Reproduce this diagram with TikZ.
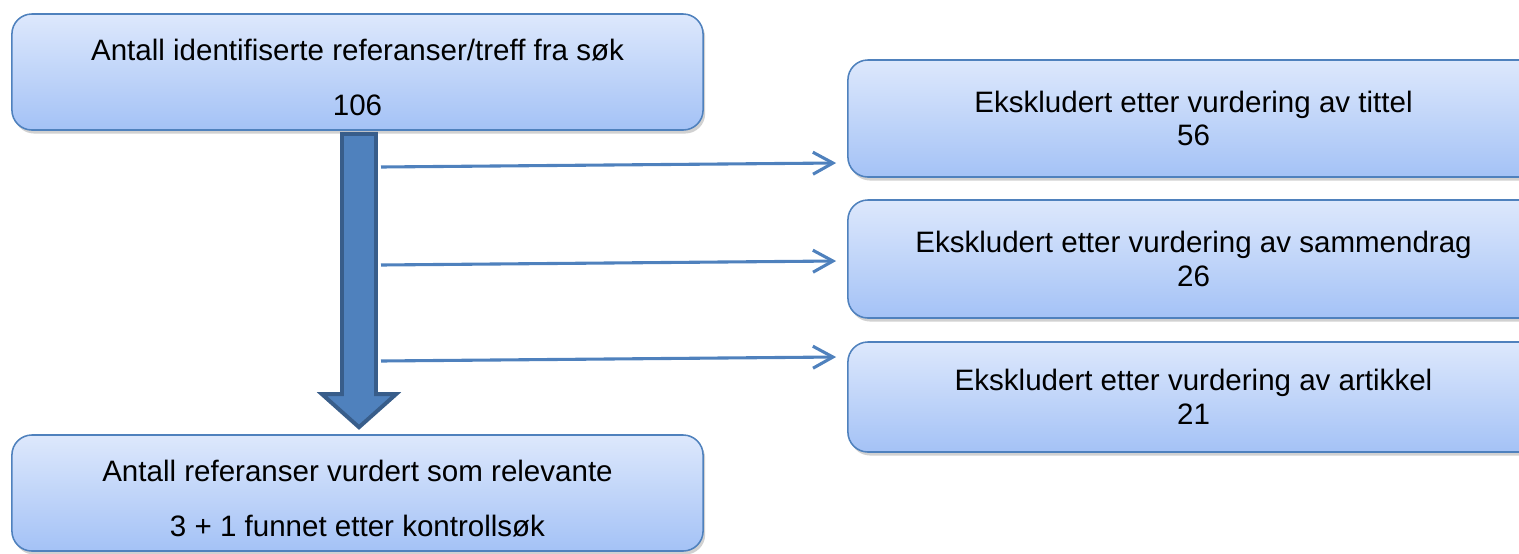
\documentclass[tikz,border=0pt]{standalone}
\usepackage{fontspec}
\setmainfont{Liberation Sans}
\definecolor{boxtop}{RGB}{221,232,252}
\definecolor{boxbottom}{RGB}{164,194,246}
\definecolor{boxline}{RGB}{79,129,189}
\definecolor{arrowdark}{RGB}{56,93,138}
\usetikzlibrary{arrows.meta,positioning,calc,shadows}
\newcommand{\topgap}{\rule{0pt}{0.8cm}}

\begin{document}
\begin{tikzpicture}[x=0.025cm,y=-0.025cm,
    basebox/.style={rectangle,rounded corners=0.5cm,draw=boxline,line width=1.1pt,
        top color=boxtop,bottom color=boxbottom,minimum width=17.275cm,align=center,
        drop shadow={shadow xshift=1.5pt,shadow yshift=-2.5pt,opacity=0.3,fill=black!60}},
    refbox/.style={basebox,font=\fontsize{21}{39}\selectfont},
    exbox/.style={basebox,font=\fontsize{21}{24}\selectfont},
    flowarrow/.style={fill=boxline,draw=arrowdark,line width=2.8pt,line join=miter},
    sidearrow/.style={draw=boxline,line width=2.2pt,-{Straight Barb[length=0.5cm,width=0.55cm,line width=2.2pt]}}]
    \useasboundingbox (0,0) rectangle (1519,553);

    % Main boxes
    \node[refbox,minimum height=2.9cm] (found) at (357.5,72) {\topgap Antall identifiserte referanser/treff fra søk\\106};
    \node[refbox,minimum height=2.9cm] (relevant) at (357.5,493) {\topgap Antall referanser vurdert som relevante\\3 + 1 funnet etter kontrollsøk};

    % Excluded boxes
    \node[exbox,minimum height=2.925cm] (ex1) at (1193.5,118.5) {Ekskludert etter vurdering av tittel\\56};
    \node[exbox,minimum height=2.95cm] (ex2) at (1193.5,259) {Ekskludert etter vurdering av sammendrag\\26};
    \node[exbox,minimum height=2.75cm] (ex3) at (1193.5,397) {Ekskludert etter vurdering av artikkel\\21};

    % Big arrow
    \path (found.south) ++(1.5,3) coordinate (shafttop);
    \path (relevant.north) ++(1.5,-7) coordinate (shafttip);
    \draw[flowarrow] ($(shafttop)+(-17,0)$) -- ($(shafttop)+(17,0)$) -- ($(shafttip)+(17,-33)$)
        -- ($(shafttip)+(37,-33)$) -- (shafttip) -- ($(shafttip)+(-37,-33)$)
        -- ($(shafttip)+(-17,-33)$) -- cycle;

    % Side arrows
    \foreach \i/\ys/\dy in {1/167/44.5,2/265/2,3/361/-40} {
        \coordinate (out\i) at (381,\ys);
        \draw[sidearrow] (out\i) -- ($(ex\i.west)+(-11,\dy)$);
    }
\end{tikzpicture}
\end{document}
